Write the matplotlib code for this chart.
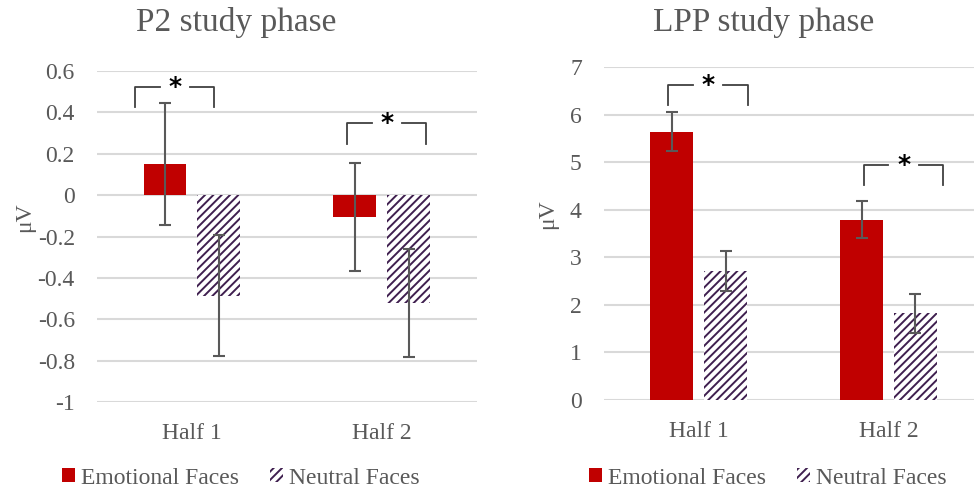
import matplotlib
matplotlib.use("Agg")
import matplotlib.pyplot as plt
from matplotlib.patches import Patch
import numpy as np

plt.rcParams['font.family'] = 'Liberation Serif'
plt.rcParams['hatch.linewidth'] = 1.4

# data
groups = ["Half 1", "Half 2"]
series = ["Emotional Faces", "Neutral Faces"]

p2_emo = [0.15, -0.105]
p2_emo_err = [0.295, 0.26]
p2_neu = [-0.485, -0.52]
p2_neu_err = [0.29, 0.26]

lpp_emo = [5.65, 3.79]
lpp_emo_err = [0.42, 0.39]
lpp_neu = [2.72, 1.83]
lpp_neu_err = [0.42, 0.41]

# significance brackets: (x_left, x_star, x_right, y_top, y_leg)
p2_sig = [(-0.30, -0.09, 0.116, 0.522, 0.425),
          (0.816, 1.026, 1.232, 0.347, 0.246)]
lpp_sig = [(-0.16, 0.05, 0.26, 6.62, 6.21),
           (0.87, 1.08, 1.29, 4.95, 4.53)]

red = '#C00000'
purple = '#3F1F4F'
grey = '#595959'
gridc = '#D9D9D9'

fig = plt.figure(figsize=(9.74, 4.88), dpi=100)
ax1 = fig.add_axes([0.0996, 0.1756, 0.390, 0.6795])
ax2 = fig.add_axes([0.6201, 0.1803, 0.3799, 0.6817])

x = np.arange(len(groups))
w = 0.226
off = 0.142


def draw(ax, emo, emo_err, neu, neu_err, sig, ylim, ticks, labs):
    ax.bar(x - off, emo, w, color=red, zorder=2)
    ax.bar(x + off, neu, w, color='white', edgecolor=purple, hatch='////',
           linewidth=0, zorder=2)
    ax.errorbar(x - off, emo, yerr=emo_err, fmt='none', ecolor=grey,
                elinewidth=1.5, capsize=4, capthick=1.5, zorder=3)
    ax.errorbar(x + off, neu, yerr=neu_err, fmt='none', ecolor=grey,
                elinewidth=1.5, capsize=4, capthick=1.5, zorder=3)
    for xl, xs, xr, yt, yl in sig:
        g = 0.08
        ax.plot([xl, xl, xs - g], [yl, yt, yt], color='#404040', lw=1.3,
                zorder=3, clip_on=False)
        ax.plot([xs + g, xr, xr], [yt, yt, yl], color='#404040', lw=1.3,
                zorder=3, clip_on=False)
        ax.text(xs, yt, '*', ha='center', va='center', fontsize=18,
                fontweight='bold', family='DejaVu Sans', color='black', zorder=4)
    ax.set_ylim(*ylim)
    ax.set_yticks(ticks)
    ax.set_yticklabels(labs)
    ax.set_xticks(x)
    ax.set_xticklabels(groups)
    ax.yaxis.grid(True, color=gridc, lw=1.5)
    ax.set_axisbelow(True)
    for s in ax.spines.values():
        s.set_visible(False)
    ax.tick_params(length=0, labelsize=17, labelcolor=grey)
    ax.tick_params(axis='y', pad=16)
    ax.tick_params(axis='x', pad=15)


p2_ticks = [0.6, 0.4, 0.2, 0, -0.2, -0.4, -0.6, -0.8, -1]
p2_labs = ['0.6', '0.4', '0.2', '0', '-0.2', '-0.4', '-0.6', '-0.8', '-1']
draw(ax1, p2_emo, p2_emo_err, p2_neu, p2_neu_err, p2_sig, (-1, 0.6),
     p2_ticks, p2_labs)
ax1.set_xlim(-0.5, 1.5)

lpp_ticks = list(range(0, 8))
draw(ax2, lpp_emo, lpp_emo_err, lpp_neu, lpp_neu_err, lpp_sig, (0, 7),
     lpp_ticks, [str(t) for t in lpp_ticks])
ax2.set_xlim(-0.5, 1.451)

fig.text(236.5 / 974, 1 - 23 / 488, "P2 study phase", ha='center', va='center',
         fontsize=24, color=grey)
fig.text(764 / 974, 1 - 23 / 488, "LPP study phase", ha='center', va='center',
         fontsize=24, color=grey)
fig.text(25 / 974, 1 - 217 / 488, "μV", rotation=90, ha='center', va='center',
         fontsize=17, color=grey)
fig.text(548 / 974, 1 - 214 / 488, "μV", rotation=90, ha='center', va='center',
         fontsize=17, color=grey)

handles = [Patch(facecolor=red, edgecolor=red, linewidth=0),
           Patch(facecolor='white', edgecolor=purple, hatch='////', linewidth=0)]
for cx in (241 / 974, 768 / 974):
    fig.legend(handles, series, loc='center', bbox_to_anchor=(cx, 1 - 478 / 488),
               ncol=2, frameon=False, fontsize=17, labelcolor=grey,
               handlelength=0.55, handleheight=0.55, handletextpad=0.25,
               columnspacing=1.3, borderpad=0, borderaxespad=0)

fig.savefig("out.png", dpi=100)
